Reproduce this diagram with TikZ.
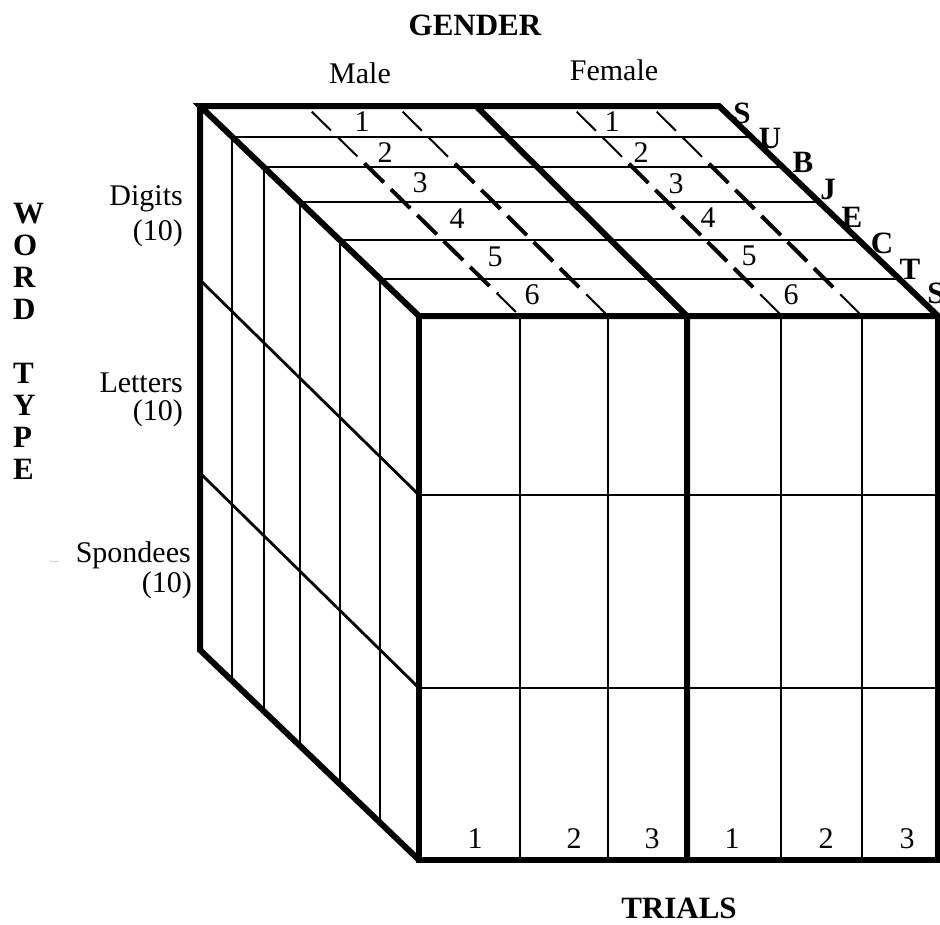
\documentclass[tikz,border=0pt]{standalone}
\usepackage{fontspec}
\setmainfont{Liberation Serif}
\begin{document}
\begin{tikzpicture}[x=1pt,y=-1pt,
  thickedge/.style={line width=6pt, line join=miter},
  thinline/.style={line width=2.8pt},
  dsh/.style={dash pattern=on 27pt off 10pt, dash phase=29pt},
  lbl/.style={font=\fontsize{30}{36}\selectfont, inner sep=0pt},
  blbl/.style={font=\fontsize{31}{37}\selectfont\bfseries, inner sep=0pt}]
\useasboundingbox (0,0) rectangle (940,924);

% corners
\coordinate (BTL) at (200,106);
\coordinate (BTR) at (719,106);
\coordinate (FTL) at (419,316);
\coordinate (FTR) at (938,316);
\coordinate (FBL) at (419,860);
\coordinate (FBR) at (938,860);
\coordinate (BBL) at (200,650);

% top-face bands and left-face columns
\foreach \x/\y/\yb in {232/137/680.7, 264/167/711.4, 300/202/745.9, 340/240/784.2, 380/279/822.6}{
  \draw[thinline] (\x,\y) -- ++(519,0);
  \draw[thinline] (\x,\y) -- (\x,\yb);
}
% left-face rows
\draw[thinline] (200,280) -- (419,495);
\draw[thinline] (200,473) -- (419,688);
% front-face rows and columns
\draw[thinline] (419,495) -- (938,495);
\draw[thinline] (419,688) -- (938,688);
\foreach \x in {520,608,781,862}{
  \draw[thinline] (\x,316) -- (\x,860);
}

% dashed lines on top face
\foreach \a/\b in {306/520, 397/608, 571/782, 651/862}{
  \draw[dsh, line width=2pt] (\a,106) -- (\b,316);
}
\begin{scope}
  \clip (0,160) rectangle (940,292);
  \foreach \a/\b in {306/520, 397/608, 571/782, 651/862}{
    \draw[dsh, line width=4pt] (\a,106) -- (\b,316);
  }
\end{scope}

% thick outline
\draw[thickedge] (BTL) -- (BTR) -- (FTR) -- (FTL) -- cycle;
\draw[thickedge] (BTL) -- (BBL) -- (FBL);
\draw[thickedge] (FTL) rectangle (FBR);
\draw[thickedge] (476,106) -- (687,316) -- (687,860);

% titles
\node[blbl, anchor=base] (gender) at (475,35) {GENDER};
\node[lbl, anchor=base] (male) at (360,83) {Male};
\node[lbl, anchor=base] (female) at (614,80) {Female};
\node[blbl, anchor=base] (trials) at (679,918) {TRIALS};

% WORD TYPE
\foreach \c/\y [count=\i] in {W/223, O/255, R/287, D/319, T/383, Y/415, P/447, E/479}{
  \node[blbl, anchor=base west] (wt\i) at (13,\y) {\c};
}

% row labels
\node[lbl, anchor=base east] (dig) at (183,205) {Digits};
\node[lbl, anchor=base east] (dign) at (183,240) {(10)};
\node[lbl, anchor=base east] (let) at (183,392) {Letters};
\node[lbl, anchor=base east] (letn) at (183,420) {(10)};
\node[lbl, anchor=base east] (spo) at (191,562) {Spondees};
\node[lbl, anchor=base east] (spon) at (192,592) {(10)};
\node[font=\fontsize{2.5}{3}\selectfont, text=gray, anchor=base east, inner sep=0pt] (tiny) at (60,562) {Spondees};

% subject numbers on top
\foreach \x/\y/\n [count=\i] in {362/122/1, 385/153/2, 420/183/3, 457/219/4, 495/257/5, 532/295/6}{
  \node[lbl] (m\i) at (\x,\y) {\n};
}
\foreach \x/\y/\n [count=\i] in {612/122/1, 641/153/2, 676/184/3, 708/218/4, 749/256/5, 791/295/6}{
  \node[lbl] (f\i) at (\x,\y) {\n};
}

% SUBJECTS
\foreach \x/\y/\c [count=\i] in {742/113/S, 770/138/U, 803/162/B, 828/189/J, 852/217/E, 882/243/C, 910/269/T, 936/293/S}{
  \node[blbl] (s\i) at (\x,\y) {\c};
}

% trial numbers
\foreach \x/\n [count=\i] in {475/1, 574/2, 652/3, 732/1, 826/2, 907/3}{
  \node[lbl, anchor=base] (t\i) at (\x,848) {\n};
}
\end{tikzpicture}
\end{document}
